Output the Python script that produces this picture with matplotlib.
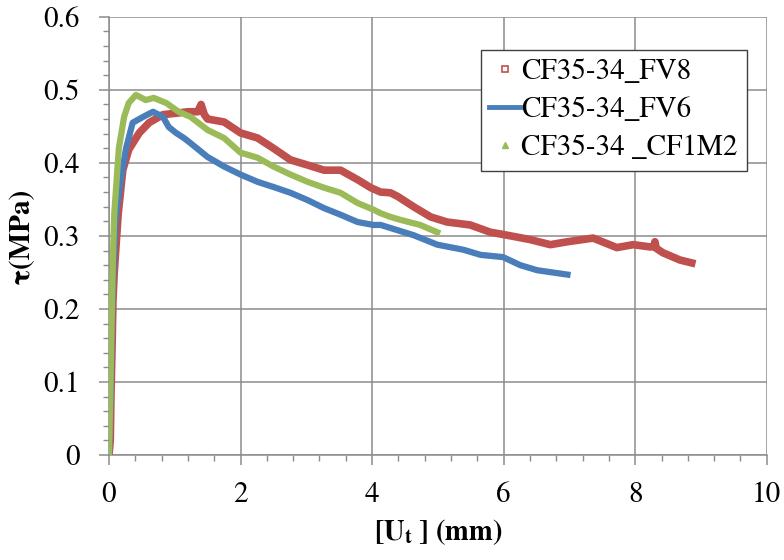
import matplotlib
matplotlib.use("Agg")
import matplotlib.pyplot as plt
from matplotlib.lines import Line2D
from matplotlib.ticker import FixedLocator

plt.rcParams['font.family'] = 'serif'
plt.rcParams['font.serif'] = ['TeX Gyre Termes', 'Liberation Serif', 'DejaVu Serif']
plt.rcParams['mathtext.fontset'] = 'custom'
plt.rcParams['mathtext.rm'] = 'TeX Gyre Termes'
plt.rcParams['mathtext.it'] = 'TeX Gyre Termes:italic'
plt.rcParams['mathtext.bf'] = 'TeX Gyre Termes:bold'

# Series CF35-34_FV8 (red)
fv8_x = [0.0, 0.02, 0.03, 0.05, 0.06, 0.08, 0.11, 0.14, 0.21, 0.3, 0.46, 0.61, 0.82, 1.02,
         1.2, 1.35, 1.4, 1.45, 1.5, 1.75, 2.0, 2.26, 2.5, 2.76, 3.02, 3.27, 3.52, 3.78,
         3.98, 4.13, 4.28, 4.39, 4.63, 4.89, 5.14, 5.49, 5.8, 6.05, 6.4, 6.71, 6.97,
         7.36, 7.72, 7.97, 8.22, 8.28, 8.3, 8.32, 8.42, 8.68, 8.86]
fv8_y = [0.0, 0.02, 0.08, 0.16, 0.21, 0.25, 0.29, 0.33, 0.39, 0.418, 0.441, 0.455, 0.466, 0.468,
         0.47, 0.47, 0.48, 0.466, 0.46, 0.456, 0.441, 0.434, 0.42, 0.404, 0.397, 0.39, 0.39, 0.377,
         0.366, 0.36, 0.359, 0.354, 0.34, 0.326, 0.319, 0.315, 0.305, 0.301, 0.295, 0.288, 0.292,
         0.297, 0.284, 0.288, 0.285, 0.285, 0.292, 0.283, 0.277, 0.267, 0.263]

# Series CF35-34_FV6 (blue)
fv6_x = [0.0, 0.03, 0.05, 0.08, 0.11, 0.18, 0.26, 0.36, 0.52, 0.67, 0.82, 0.91, 1.02, 1.14,
         1.24, 1.5, 1.75, 2.0, 2.26, 2.5, 2.76, 3.02, 3.27, 3.52, 3.78, 4.02, 4.13, 4.63,
         4.99, 5.39, 5.65, 5.99, 6.25, 6.51, 6.97]
fv6_y = [0.0, 0.1, 0.2, 0.28, 0.33, 0.377, 0.42, 0.455, 0.463, 0.47, 0.463, 0.449, 0.441, 0.434,
         0.427, 0.408, 0.395, 0.384, 0.374, 0.367, 0.359, 0.349, 0.338, 0.329, 0.319, 0.315,
         0.315, 0.301, 0.288, 0.281, 0.274, 0.271, 0.26, 0.253, 0.247]

# Series CF35-34 _CF1M2 (green)
cf1m2_x = [0.0, 0.02, 0.04, 0.06, 0.08, 0.15, 0.23, 0.3, 0.41, 0.56, 0.68, 0.87, 1.06, 1.24,
           1.5, 1.75, 2.0, 2.26, 2.5, 2.76, 3.02, 3.27, 3.52, 3.78, 4.02, 4.13, 4.28, 4.43,
           4.73, 4.99]
cf1m2_y = [0.0, 0.08, 0.18, 0.27, 0.33, 0.42, 0.463, 0.482, 0.493, 0.486, 0.489, 0.482, 0.47,
           0.463, 0.445, 0.434, 0.414, 0.407, 0.395, 0.384, 0.374, 0.366, 0.359, 0.345, 0.336,
           0.331, 0.326, 0.322, 0.315, 0.305]

x_ticks = [0, 2, 4, 6, 8, 10]
x_ticklabels = ['0', '2', '4', '6', '8', '10']
y_ticks = [0, 0.1, 0.2, 0.3, 0.4, 0.5, 0.6]
y_ticklabels = ['0', '0.1', '0.2', '0.3', '0.4', '0.5', '0.6']

labels = ['CF35-34_FV8', 'CF35-34_FV6', 'CF35-34 _CF1M2']
colors = ['#C0504D', '#4A7EBB', '#9BBB59']

fig = plt.figure(figsize=(7.84, 5.6), dpi=100)
ax = fig.add_axes([0.139, 0.1875, 0.839, 0.7825])

ax.plot(fv8_x, fv8_y, color=colors[0], lw=5.5, solid_joinstyle='round', zorder=3)
ax.plot(fv6_x, fv6_y, color=colors[1], lw=4.5, solid_joinstyle='round', zorder=4)
ax.plot(cf1m2_x, cf1m2_y, color=colors[2], lw=4.5, solid_joinstyle='round', zorder=5)

ax.set_xlim(0, 10)
ax.set_ylim(0, 0.6)
ax.set_xticks(x_ticks)
ax.set_xticklabels(x_ticklabels)
ax.set_yticks(y_ticks)
ax.set_yticklabels(y_ticklabels)
ax.xaxis.set_minor_locator(FixedLocator([i * 0.4 for i in range(26)]))
ax.yaxis.set_minor_locator(FixedLocator([i * 0.02 for i in range(31)]))

ax.grid(True, which='major', color='#8C8C8C', lw=1.1, zorder=0)
for s in ['top', 'right']:
    ax.spines[s].set_visible(False)
for s in ['left', 'bottom']:
    ax.spines[s].set_color('#8C8C8C')
    ax.spines[s].set_linewidth(1.1)
ax.tick_params(which='major', direction='out', length=7, width=1.1, color='#8C8C8C',
               labelsize=21)
ax.tick_params(axis='y', which='major', pad=14)
ax.tick_params(axis='x', which='major', pad=12)
ax.tick_params(which='minor', direction='out', length=4, width=1.0, color='#8C8C8C')

ax.set_ylabel('τ(MPa)', fontsize=21, fontweight='bold', labelpad=6)
ax.set_xlabel(r'[U$_\mathbf{t}$ ] (mm)', fontsize=20.5, fontweight='bold', labelpad=6)

handles = [
    Line2D([], [], ls='none', marker='s', markersize=4, markerfacecolor='white',
           markeredgecolor=colors[0], markeredgewidth=1.2),
    Line2D([], [], color=colors[1], lw=3.5),
    Line2D([], [], ls='none', marker='^', markersize=4, color=colors[2]),
]
leg = ax.legend(handles, labels, loc='upper left', bbox_to_anchor=(0.565, 0.925),
                prop={'family': 'TeX Gyre Termes', 'size': 21},
                frameon=True, fancybox=False, edgecolor='#404040',
                framealpha=1, handlelength=1.05, handletextpad=0.05, borderpad=0.3,
                labelspacing=0.35, borderaxespad=0)
leg.get_frame().set_linewidth(1.0)

fig.savefig('out.png', dpi=100)
